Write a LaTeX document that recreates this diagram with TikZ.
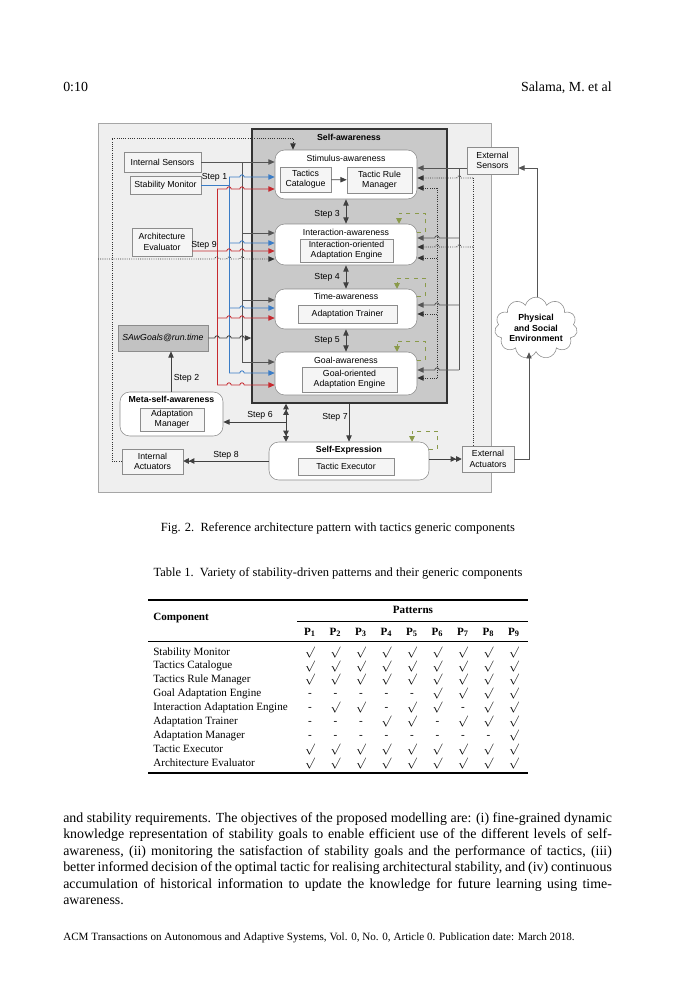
\documentclass[tikz,border=0pt]{standalone}
\usepackage{fontspec}
\setmainfont{Liberation Serif}
\setsansfont{Liberation Sans}
\usetikzlibrary{arrows.meta,shapes.symbols}
\definecolor{bgc}{HTML}{EFEFEF}
\definecolor{sac}{HTML}{C9C9C9}
\definecolor{wireg}{HTML}{555555}
\definecolor{wireb}{HTML}{3A7CC6}
\definecolor{wirer}{HTML}{C62A2F}
\definecolor{grn}{HTML}{8A9A4A}
\definecolor{boxd}{HTML}{8C8C8C}
\definecolor{lboxf}{HTML}{F5F5F5}
\definecolor{sawf}{HTML}{C2C2C2}
\begin{document}
\begin{tikzpicture}[x=0.72pt,y=-0.72pt,
  wh/.style 2 args={minimum width=#1*0.72pt,minimum height=#2*0.72pt},
  dfont/.style={font=\sffamily\fontsize{6.3}{7.4}\selectfont},
  bfont/.style={font=\sffamily\bfseries\fontsize{6.3}{7.4}\selectfont},
  lbox/.style={draw=boxd,fill=lboxf,dfont,align=center,inner sep=0pt},
  ibox/.style={draw=boxd,fill=lboxf,dfont,align=center,inner sep=0pt},
  rbox/.style={draw=boxd,fill=white,rounded corners=7pt,inner sep=0pt},
  sabox/.style={draw=black!80,fill=sac,line width=1.1pt,inner sep=0pt},
  tip/.style={-{Triangle[length=4.5pt,width=3.8pt]}},
  dtip/.style={{Triangle[length=4.5pt,width=3.8pt]}-{Triangle[length=4.5pt,width=3.8pt]}},
  dbltip/.style={-{Triangle[length=4pt,width=4pt]Triangle[length=4pt,width=4pt]}},
  dblboth/.style={{Triangle[length=4pt,width=4pt]Triangle[length=4pt,width=4pt]}-{Triangle[length=4pt,width=4pt]Triangle[length=4pt,width=4pt]}},
  gw/.style={draw=wireg,line width=0.6pt},
  kw/.style={draw=black!75,line width=0.6pt},
  bw/.style={draw=wireb,line width=0.6pt},
  rw/.style={draw=wirer,line width=0.6pt},
  dw/.style={draw=black!80,densely dotted,line width=0.6pt},
  gl/.style={draw=grn,dashed,line width=0.5pt},
  hop/.style args={#1/#2}{insert path={-- (#1-2.2,#2) arc[start angle=180,end angle=360,radius=2.2]}},
  hopl/.style args={#1/#2}{insert path={-- (#1+2.2,#2) arc[start angle=0,end angle=-180,radius=2.2]}},
  steplab/.style={dfont,inner sep=0pt},
  pg/.style={font=\fontsize{10}{12}\selectfont,inner sep=0pt},
  tfont/.style={font=\fontsize{8}{10}\selectfont,inner sep=0pt}
]
\fill[white] (0,0) rectangle (675,1000);
\useasboundingbox (0,0) rectangle (675,1000);

% page header
\node[pg,anchor=base west] (hl) at (63,92) {0:10};
\node[pg,anchor=base east] (hr) at (612,92) {Salama, M. et al};

% diagram background
\draw[draw=black!35,fill=bgc,line width=0.7pt] (98,123) rectangle (491,492);
\node[sabox,wh={195}{274}] (sa) at (349.5,266) {};
\node[bfont] (satitle) at (349,137) {Self-awareness};

% left boxes
\node[lbox,wh={77}{20}] (isen) at (162.5,162) {Internal Sensors};
\node[lbox,wh={71}{18}] (smon) at (165.5,185) {Stability Monitor};
\node[lbox,wh={60}{28}] (aeval) at (162,242) {Architecture\\Evaluator};
\node[draw=boxd,fill=sawf,dfont,inner sep=0pt,wh={90}{26}] (sawg) at (163,338) {\itshape SAwGoals@run.time};
\node[rbox,wh={103}{44}] (meta) at (171.5,414) {};
\node[bfont] (metat) at (171.5,399) {Meta-self-awareness};
\node[ibox,wh={64}{23}] (am) at (172,419.5) {Adaptation\\Manager};
\node[lbox,wh={61}{25}] (iact) at (152.5,461.5) {Internal\\Actuators};

% awareness boxes
\node[rbox,wh={142}{49}] (stim) at (346,174.5) {};
\node[dfont] (stimt) at (346,158) {Stimulus-awareness};
\node[ibox,wh={51}{25}] (tcat) at (305.5,179.5) {Tactics\\Catalogue};
\node[ibox,wh={65}{26}] (trm) at (379.5,180) {Tactic Rule\\Manager};
\node[rbox,wh={142}{41}] (inter) at (346,244.5) {};
\node[dfont] (intert) at (346,232) {Interaction-awareness};
\node[ibox,wh={93}{23}] (ioae) at (346.5,250.5) {Interaction-oriented\\Adaptation Engine};
\node[rbox,wh={142}{40}] (time) at (346,309) {};
\node[dfont] (timet) at (346,296) {Time-awareness};
\node[ibox,wh={99}{18}] (atr) at (347.5,314) {Adaptation Trainer};
\node[rbox,wh={142}{43}] (goal) at (346,373.5) {};
\node[dfont] (goalt) at (346,360) {Goal-awareness};
\node[ibox,wh={95}{25}] (goae) at (349.5,379.5) {Goal-oriented\\Adaptation Engine};
\node[rbox,wh={160}{38}] (sexp) at (349,461) {};
\node[bfont] (sexpt) at (349,450) {Self-Expression};
\node[ibox,wh={96}{17}] (tex) at (346,466.5) {Tactic Executor};

% right boxes
\node[lbox,wh={51}{27}] (esen) at (492.5,160.5) {External\\Sensors};
\node[lbox,wh={52}{26}] (eact) at (488,459) {External\\Actuators};
\node[cloud,cloud puffs=11,aspect=1.6,draw=boxd,fill=white,bfont,align=center,inner sep=0pt] (cloud) at (536,328) {Physical\\and Social\\Environment};

% inner arrow
\draw[kw,tip] (tcat) -- (trm);

% step arrows inside self-awareness
\draw[kw,dtip] (stim.south) -- (inter.north);
\draw[kw,dtip] (inter.south) -- (time.north);
\draw[kw,dtip] (time.south) -- (goal.north);
\node[steplab,anchor=east] (s3) at (340,214) {Step 3};
\node[steplab,anchor=east] (s4) at (340,277) {Step 4};
\node[steplab,anchor=east] (s5) at (340,340) {Step 5};

% gray wires from internal sensors
\draw[gw,tip] (isen.east) -- (stim.west |- isen.east);
\draw[gw] (242,162) -- (242,362);
\draw[gw,tip] (242,233) -- (inter.west |- 0,233);
\draw[gw,tip] (242,300) -- (time.west |- 0,300);
\draw[gw,tip] (242,362) -- (goal.west |- 0,362);

% blue wires from stability monitor
\draw[bw] (smon.east) -- (229,185);
\draw[bw] (229,177) -- (229,373);
\draw[bw,tip] (229,177) [hop=242/177] -- (stim.west |- 0,177);
\draw[bw,tip] (229,243) [hop=242/243] -- (inter.west |- 0,243);
\draw[bw,tip] (229,308) [hop=242/308] -- (time.west |- 0,308);
\draw[bw,tip] (229,373) [hop=242/373] -- (goal.west |- 0,373);
\node[steplab] (s1) at (214.5,177) {Step 1};

% red wires from architecture evaluator
\draw[rw] (217,189) -- (217,385);
\draw[rw,tip] (217,189) [hop=229/189] [hop=242/189] -- (stim.west |- 0,189);
\draw[rw,tip] (aeval.east |- 0,251) [hop=229/251] [hop=242/251] -- (inter.west |- 0,251);
\draw[rw,tip] (217,318) [hop=229/318] [hop=242/318] -- (time.west |- 0,318);
\draw[rw,tip] (217,385) [hop=229/385] [hop=242/385] -- (goal.west |- 0,385);
\node[steplab] (s9) at (204,245) {Step 9};

% dotted into interaction
\draw[dw,tip] (98,259) [hop=217/259] [hop=229/259] [hop=242/259] -- (inter.west |- 0,259);

% SAwGoals into self-awareness
\draw[kw,tip] (sawg.east) [hop=217/338] [hop=229/338] [hop=242/338] -- (sa.west |- sawg.east);

% outer dotted loop from internal actuators
\draw[dw,tip] (iact.west) -- (112,461.5) -- (112,138) -- (293,138) -- (stim.north -| 293,0);

% right side wires
\draw[gw,tip] (esen.west |- 0,168) -- (stim.east |- 0,168);
\draw[gw] (459,168) -- (459,370);
\draw[gw,tip] (459,238) [hopl=437/238] -- (inter.east |- 0,238);
\draw[gw,tip] (459,305) [hopl=437/305] -- (time.east |- 0,305);
\draw[gw,tip] (459,370) [hopl=437/370] -- (goal.east |- 0,370);
\draw[dw] (473,178) -- (eact.north -| 473,0);
\draw[dw,tip] (473,178) [hopl=459/178] -- (stim.east |- 0,178);
\draw[dw,tip] (473,247) [hopl=459/247] [hopl=437/247] -- (inter.east |- 0,247);
\draw[dw] (437,188) -- (437,378);
\draw[dw,tip] (437,188) -- (stim.east |- 0,188);
\draw[dw,tip] (437,258) -- (inter.east |- 0,258);
\draw[dw,tip] (437,314) -- (time.east |- 0,314);
\draw[dw,tip] (437,378) -- (goal.east |- 0,378);

% cloud connections
\draw[gw,tip] (cloud.north -| 537,0) -- (537,168) -- (esen.east |- 0,168);
\draw[gw,tip] (eact.east) -- (529,459) -- (cloud.south -| 529,0);

% green self loops
\draw[gl,-{Triangle[length=4pt,width=4pt,fill=grn]}] (417,232) -- (425,232) -- (425,213) -- (399,213) -- (inter.north -| 399,0);
\draw[gl,-{Triangle[length=4pt,width=4pt,fill=grn]}] (417,296) -- (425,296) -- (425,278) -- (397,278) -- (time.north -| 397,0);
\draw[gl,-{Triangle[length=4pt,width=4pt,fill=grn]}] (417,360) -- (425,360) -- (425,341) -- (397,341) -- (goal.north -| 397,0);
\draw[gl,-{Triangle[length=4pt,width=4pt,fill=grn]}] (429,449) -- (437,449) -- (437,431) -- (412,431) -- (sexp.north -| 412,0);

% lower steps
\draw[kw,tip] (meta.north -| 171,0) -- (sawg.south -| 171,0);
\node[steplab] (s2) at (186.5,378) {Step 2};
\draw[kw,dblboth] (sa.south -| 286,0) -- (sexp.north -| 286,0);
\draw[kw,tip] (286,422) -- (meta.east |- 0,422);
\node[steplab] (s6) at (260,415) {Step 6};
\draw[kw,tip] (sa.south -| 349,0) -- (sexp.north);
\node[steplab] (s7) at (335,417) {Step 7};
\draw[kw,dbltip] (sexp.west |- 0,461) -- (iact.east |- 0,461);
\node[steplab] (s8) at (226,455) {Step 8};
\draw[kw,dbltip] (sexp.east |- 0,459) -- (eact.west);

% captions
\node[font=\fontsize{9}{11}\selectfont,inner sep=0pt,anchor=base] (fcap) at (338,531) {Fig. 2.\ \ Reference architecture pattern with tactics generic components};
\node[font=\fontsize{9}{11}\selectfont,inner sep=0pt,anchor=base] (tcap) at (338,576) {Table 1.\ \ Variety of stability-driven patterns and their generic components};

% table
\draw[line width=0.8pt] (148,600) -- (528,600);
\draw[line width=0.45pt] (297,621) -- (528,621);
\draw[line width=0.5pt] (148,641) -- (528,641);
\draw[line width=0.8pt] (148,773) -- (528,773);
\node[tfont,anchor=base west] (thc) at (153,620) {\bfseries Component};
\node[tfont,anchor=base] (thp) at (413,613) {\bfseries Patterns};
\foreach \k in {1,...,9}{
  \node[tfont,anchor=base] (ph\k) at ({310+(\k-1)*25.5},635) {\textbf{P\textsubscript{\k}}};
}
\foreach \nm/\vals [count=\r] in {
  Stability Monitor/{1,1,1,1,1,1,1,1,1},
  Tactics Catalogue/{1,1,1,1,1,1,1,1,1},
  Tactics Rule Manager/{1,1,1,1,1,1,1,1,1},
  Goal Adaptation Engine/{0,0,0,0,0,1,1,1,1},
  Interaction Adaptation Engine/{0,1,1,0,1,1,0,1,1},
  Adaptation Trainer/{0,0,0,1,1,0,1,1,1},
  Adaptation Manager/{0,0,0,0,0,0,0,0,1},
  Tactic Executor/{1,1,1,1,1,1,1,1,1},
  Architecture Evaluator/{1,1,1,1,1,1,1,1,1}}{
  \node[tfont,anchor=base west] (rl\r) at (153,{655+(\r-1)*13.9}) {\nm};
  \foreach \c [count=\k] in \vals {
    \node[tfont,anchor=base] (c\r-\k) at ({310+(\k-1)*25.5},{655+(\r-1)*13.9}) {\ifnum\c=1 $\surd$\else -\fi};
  }
}

% body text
\node[pg,anchor=base west] (b1) at (63,822) {\makebox[395pt][s]{and stability requirements. The objectives of the proposed modelling are: (i) fine-grained dynamic}};
\node[pg,anchor=base west] (b2) at (63,838.5) {\makebox[395pt][s]{knowledge representation of stability goals to enable efficient use of the different levels of self-}};
\node[pg,anchor=base west] (b3) at (63,855) {\makebox[395pt][s]{awareness, (ii) monitoring the satisfaction of stability goals and the performance of tactics, (iii)}};
\node[pg,anchor=base west] (b4) at (63,871.5) {\makebox[395pt][s]{better informed decision of the optimal tactic for realising architectural stability, and (iv) continuous}};
\node[pg,anchor=base west] (b5) at (63,888) {\makebox[395pt][s]{accumulation of historical information to update the knowledge for future learning using time-}};
\node[pg,anchor=base west] (b6) at (63,904.5) {awareness.};

% footer
\node[font=\fontsize{8}{10}\selectfont,inner sep=0pt,anchor=base west] (foot) at (63,940) {ACM Transactions on Autonomous and Adaptive Systems, Vol. 0, No. 0, Article 0. Publication date: March 2018.};
\end{tikzpicture}
\end{document}
